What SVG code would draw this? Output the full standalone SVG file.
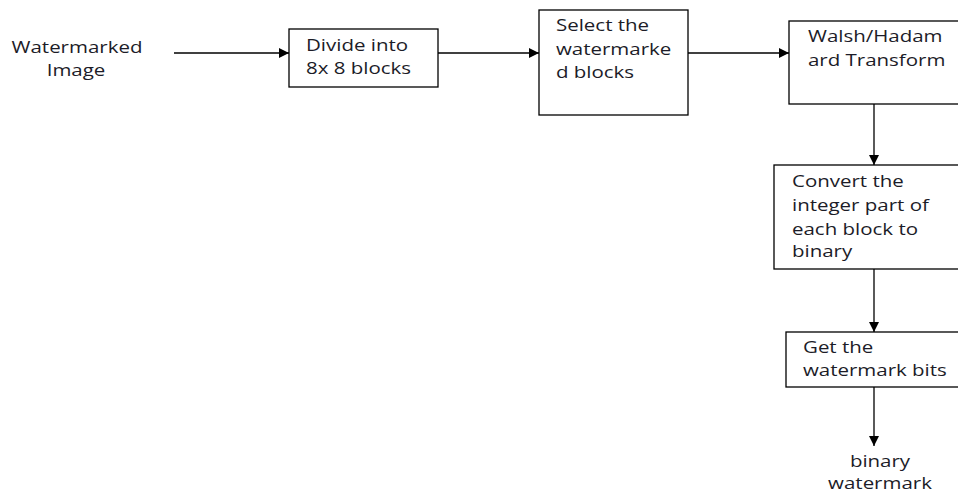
<svg xmlns="http://www.w3.org/2000/svg" width="958" height="493" viewBox="0 0 958 493">
  <defs>
    <marker id="arrow" viewBox="0 0 10 10" refX="10" refY="5" markerWidth="12" markerHeight="10" markerUnits="userSpaceOnUse" orient="auto">
      <path d="M0,0 L10,5 L0,10 z" fill="#000"/>
    </marker>
  </defs>
  <style>
    .box { fill: #fff; stroke: #000; stroke-width: 1.3; }
    .lbl { font-family: "Open Sans", "Liberation Sans", sans-serif; font-size: 16px; fill: #1c1c28; }
    .mid { text-anchor: middle; }
    .conn { stroke: #000; stroke-width: 1.3; fill: none; marker-end: url(#arrow); }
  </style>
  <rect width="958" height="493" fill="#fff"/>

  <g id="connectors">
    <line class="conn" x1="174" y1="53" x2="289" y2="53"/>
    <line class="conn" x1="438" y1="53" x2="539" y2="53"/>
    <line class="conn" x1="688" y1="53" x2="789" y2="53"/>
    <line class="conn" x1="874" y1="104" x2="874" y2="165"/>
    <line class="conn" x1="874" y1="269" x2="874" y2="332"/>
    <line class="conn" x1="874" y1="387" x2="874" y2="446"/>
  </g>

  <!-- labels are widened horizontally to the wide lettering of the chart -->
  <g id="input">
    <text class="lbl mid" transform="translate(77,53) scale(1.28,1)">Watermarked</text>
    <text class="lbl mid" transform="translate(76,76) scale(1.28,1)">Image</text>
  </g>

  <g id="divide">
    <rect class="box" x="289" y="29" width="149" height="58"/>
    <text class="lbl" transform="translate(306,51) scale(1.28,1)">Divide into</text>
    <text class="lbl" transform="translate(306,74) scale(1.28,1)">8x 8 blocks</text>
  </g>

  <g id="select">
    <rect class="box" x="539" y="10" width="149" height="105"/>
    <text class="lbl" transform="translate(556,31) scale(1.28,1)">Select the</text>
    <text class="lbl" transform="translate(556,55) scale(1.28,1)">watermarke</text>
    <text class="lbl" transform="translate(556,78) scale(1.28,1)">d blocks</text>
  </g>

  <g id="transform">
    <rect class="box" x="789" y="21" width="180" height="83"/>
    <text class="lbl" transform="translate(808,42) scale(1.28,1)">Walsh/Hadam</text>
    <text class="lbl" transform="translate(808,66) scale(1.28,1)">ard Transform</text>
  </g>

  <g id="convert">
    <rect class="box" x="774" y="165" width="195" height="104"/>
    <text class="lbl" transform="translate(792,187) scale(1.28,1)">Convert the</text>
    <text class="lbl" transform="translate(792,211) scale(1.28,1)">integer part of</text>
    <text class="lbl" transform="translate(792,235) scale(1.28,1)">each block  to</text>
    <text class="lbl" transform="translate(792,257) scale(1.28,1)">binary</text>
  </g>

  <g id="extract">
    <rect class="box" x="786" y="332" width="183" height="55"/>
    <text class="lbl" transform="translate(803,353) scale(1.28,1)">Get the</text>
    <text class="lbl" transform="translate(803,376) scale(1.28,1)">watermark bits</text>
  </g>

  <g id="output">
    <text class="lbl mid" transform="translate(880,467) scale(1.28,1)">binary</text>
    <text class="lbl mid" transform="translate(880,489) scale(1.28,1)">watermark</text>
  </g>
</svg>
